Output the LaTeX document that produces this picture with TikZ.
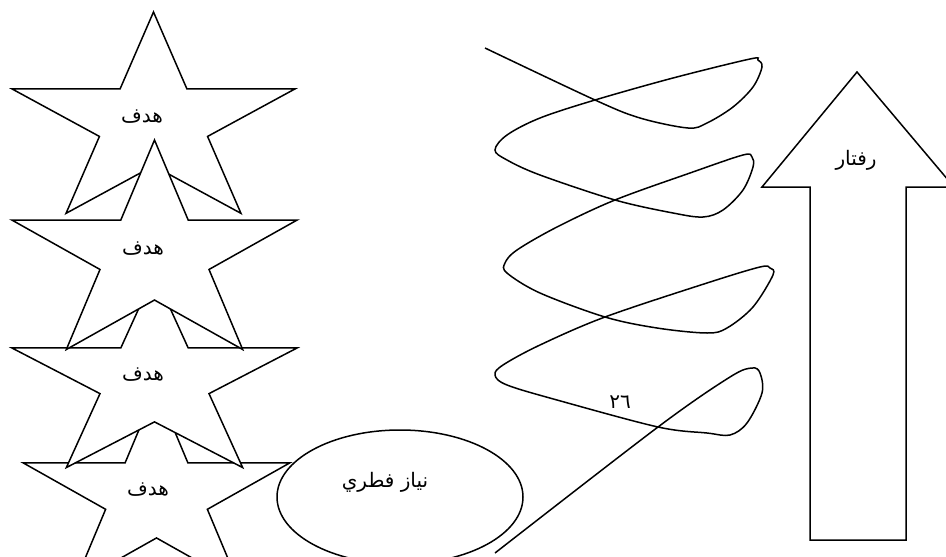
\documentclass[tikz,border=0pt]{standalone}
\usepackage{fontspec}
\newfontfamily\arabicfont[Script=Arabic]{DejaVu Sans}
\TeXXeTstate=1
\usetikzlibrary{shapes.geometric}

\begin{document}
\begin{tikzpicture}[
  x=1pt,y=-1pt,
  outline/.style={draw=black,line width=1.5pt,fill=white,line join=miter},
  spring/.style={draw=black,line width=1.5pt},
  farsi/.style={font=\arabicfont\fontsize{20}{24}\selectfont,inner sep=0pt},
  oval/.style={ellipse,draw=black,line width=1.5pt,fill=white,minimum width=246pt,minimum height=134pt,inner sep=0pt}
]
\useasboundingbox (0,0) rectangle (946,557);
% stars, the lowest one first
\foreach \cx/\cy/\rx/\ry in {153.5/123.3/148.8/111.3,156.5/496.5/140/108.5,154.5/381/150/107,154.5/255.8/150/115.8}
  \draw[outline] ({\cx},{\cy-\ry})
    \foreach \a/\r in {306/.382,342/1,18/.382,54/1,90/.382,126/1,162/.382,198/1,234/.382}
      { -- ({\cx+\r*\rx*cos(\a)},{\cy+\r*\ry*sin(\a)}) } -- cycle;
\foreach \i/\x/\y in {1/142/117,2/143/249,3/143/375,4/148/490}
  \node[farsi] (goal\i) at (\x,\y) {\beginR هدف\endR};
% need
\node[oval] (niaz) at (400,497) {};
\node[farsi] (niaztext) at (385,482) {\beginR نياز فطري\endR};
% behaviour arrow
\draw[outline] (857,72) -- (954,187) -- (906,187) -- (906,540) -- (810,540) -- (810,187) -- (762,187) -- cycle;
\node[farsi] (raftar) at (856,160) {\beginR رفتار\endR};
% spring
\draw[spring] plot[smooth,tension=.55] coordinates {
  (485,48) (595,100) (640,118) (688,128) (707,123) (733,107) (753,87) (762,67) (758,60) (750,59)
  (673,78) (595,100) (540,118) (507,135) (495,150) (507,160) (540,175) (615,200) (673,213) (703,217)
  (723,210) (743,190) (753,167) (752,157) (743,155) (690,173) (615,200) (557,227) (517,250) (505,263)
  (507,273) (540,293) (605,317) (657,328) (707,333) (727,328) (753,307) (773,275) (770,268) (760,267)
  (707,283) (605,317) (540,345) (503,365) (495,375) (507,385) (557,400) (658,427) (707,433) (730,435)
  (747,423) (762,393) (760,373) (752,368) (730,377) (658,427) (495,553)};
\node[farsi] (pagenum) at (620,402) {٢٦};
\end{tikzpicture}
\end{document}
